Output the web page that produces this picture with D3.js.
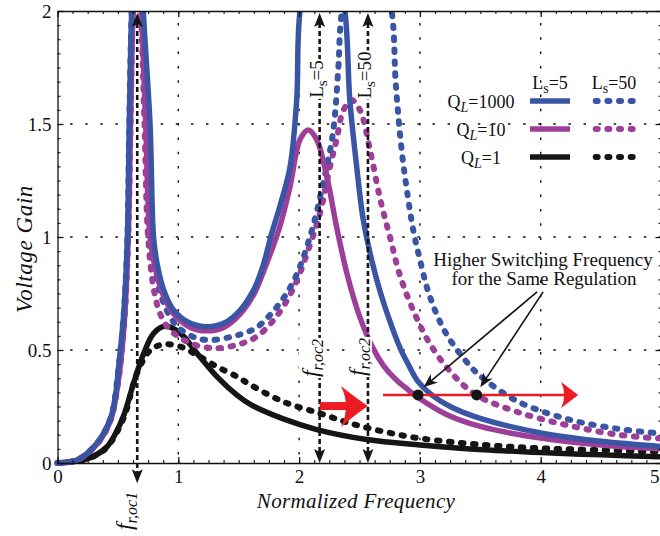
<!DOCTYPE html>
<html lang="en">
<head>
<meta charset="UTF-8">
<title>Voltage Gain</title>
<style>
  body { margin: 0; background: #fff; }
  svg text { font-family: "Liberation Serif", "Times New Roman", serif; fill: #111; }
  .axis path, .axis line { stroke: #111; stroke-width: 1.3; }
  .axis text { font-size: 19px; fill: #111; font-family: "Liberation Serif", "Times New Roman", serif; }
  .minor path { stroke: none; }
  .minor line { stroke: #111; stroke-width: 1.1; }
</style>
</head>
<body>
<svg id="chart" width="660" height="536"></svg>
<script src="https://cdn.jsdelivr.net/npm/d3@7"></script>
<script>
// ---- data: [normalized frequency, voltage gain] ----
var xTicks = [0, 1, 2, 3, 4, 5];
var yTicks = [0, 0.5, 1, 1.5, 2];
var qLabels = ["1000", "10", "1"];
var lsLabels = ["5", "50"];

var gainQ1000Ls5 = [[0,0],[0.16,0.013],[0.33,0.09],[0.44,0.2],[0.48,0.3],[0.507,0.43],[0.548,0.66],
  [0.578,0.99],[0.594,1.5],[0.614,2.0],[0.66,2.6],[0.71,2.0],[0.766,1.5],[0.795,1.0],[0.824,0.884],
  [0.879,0.766],[0.96,0.677],[1.1,0.618],[1.24,0.603],[1.376,0.618],[1.513,0.677],[1.624,0.766],
  [1.7,0.87],[1.773,1.016],[1.84,1.134],[1.925,1.31],[1.98,1.606],[2.007,2.0],[2.2,2.6],[2.38,2.0],
  [2.42,1.606],[2.477,1.31],[2.53,1.08],[2.6,0.9],[2.67,0.76],[2.75,0.63],[2.835,0.51],[2.9,0.44],
  [2.985,0.36],[3.1,0.3],[3.25,0.25],[3.5,0.197],[4.0,0.133],[4.5,0.096],[5.0,0.073]];

var gainQ10Ls5 = [[0,0],[0.16,0.012],[0.33,0.085],[0.44,0.19],[0.5,0.35],[0.55,0.6],[0.585,0.99],
  [0.605,1.5],[0.625,2.0],[0.66,2.4],[0.695,2.0],[0.73,1.5],[0.766,1.0],[0.81,0.86],[0.87,0.75],
  [0.96,0.66],[1.1,0.6],[1.24,0.585],[1.376,0.6],[1.513,0.66],[1.624,0.745],[1.7,0.84],[1.84,1.046],
  [1.925,1.223],[2.007,1.43],[2.076,1.473],[2.146,1.43],[2.23,1.267],[2.31,1.046],[2.4,0.83],
  [2.5,0.65],[2.61,0.51],[2.7,0.43],[2.8,0.37],[2.9,0.325],[2.985,0.29],[3.22,0.215],[3.5,0.162],
  [4.0,0.11],[4.5,0.08],[5.0,0.063]];

var gainQ1Ls5 = [[0,0],[0.2,0.012],[0.3,0.03],[0.41,0.072],[0.48,0.13],[0.548,0.21],[0.63,0.353],
  [0.714,0.485],[0.796,0.574],[0.893,0.606],[1.017,0.574],[1.155,0.485],[1.32,0.382],[1.486,0.3],
  [1.6,0.258],[1.87,0.195],[2.146,0.148],[2.56,0.104],[3.0,0.08],[3.525,0.059],[4.0,0.046],
  [4.5,0.036],[5.0,0.028]];

var gainQ1000Ls50 = [[0,0],[0.16,0.013],[0.33,0.09],[0.44,0.2],[0.507,0.43],[0.548,0.66],[0.578,0.99],
  [0.594,1.5],[0.614,2.0],[0.66,2.6],[0.705,2.0],[0.755,1.5],[0.785,1.0],[0.83,0.8],[0.9,0.68],
  [1.0,0.6],[1.155,0.552],[1.3,0.545],[1.45,0.56],[1.54,0.574],[1.65,0.6],[1.8,0.68],[1.95,0.8],
  [2.09,1.0],[2.2,1.24],[2.28,1.46],[2.325,1.75],[2.35,1.98],[2.55,2.6],[2.767,2.0],
  [2.8,1.68],[2.85,1.38],[2.9,1.18],[2.945,1.03],[3.0,0.9],[3.08,0.74],[3.22,0.57],
  [3.415,0.43],[3.5,0.385],[3.8,0.275],[4.215,0.195],[4.63,0.152],[5.0,0.13]];

var gainQ10Ls50 = [[0,0],[0.16,0.012],[0.33,0.085],[0.44,0.19],[0.5,0.35],[0.55,0.6],[0.585,0.99],
  [0.605,1.5],[0.625,2.0],[0.655,2.3],[0.69,2.0],[0.72,1.5],[0.75,1.0],[0.8,0.76],[0.85,0.66],
  [0.93,0.59],[1.1,0.53],[1.3,0.508],[1.5,0.525],[1.65,0.56],[1.8,0.64],[1.95,0.77],[2.1,0.98],
  [2.18,1.12],[2.255,1.31],[2.31,1.43],[2.366,1.56],[2.435,1.606],[2.505,1.56],[2.587,1.385],
  [2.67,1.17],[2.752,1.0],[2.835,0.83],[2.945,0.675],[3.08,0.53],[3.276,0.39],[3.47,0.3],
  [3.8,0.227],[4.215,0.168],[4.63,0.126],[5.0,0.108]];

var gainQ1Ls50 = [[0,0],[0.2,0.012],[0.3,0.03],[0.41,0.07],[0.548,0.2],[0.658,0.397],[0.77,0.5],
  [0.88,0.525],[1.017,0.515],[1.155,0.478],[1.32,0.426],[1.486,0.382],[1.6,0.345],[1.87,0.271],
  [2.17,0.22],[2.42,0.176],[2.7,0.139],[3.0,0.109],[3.525,0.08],[4.0,0.065],[4.5,0.057],[5.0,0.05]];

// annotations (data units)
var fOc1 = 0.66, fOc2Ls5 = 2.17, fOc2Ls50 = 2.57;
var regGain = 0.301;
var regPoints = [2.985, 3.47];

var blue = "#3b55a5", magenta = "#9d3f99", black = "#151515", red = "#ed1c24";

var svg = d3.select("#chart");
var x = d3.scaleLinear().domain([0, 5]).range([57.5, 661.5]);
var y = d3.scaleLinear().domain([0, 2]).range([463, 11]);

// grid
var grid = svg.append("g");
grid.selectAll(".gx").data([1, 2, 3, 4]).enter().append("line")
  .attr("x1", d => x(d)).attr("x2", d => x(d))
  .attr("y1", y(2)).attr("y2", y(0))
  .attr("stroke", "#111").attr("stroke-width", 1.4)
  .attr("stroke-dasharray", "2.5,11.8").attr("stroke-dashoffset", -12);
grid.selectAll(".gy").data([0.5, 1, 1.5]).enter().append("line")
  .attr("x1", x(0)).attr("x2", x(5))
  .attr("y1", d => y(d)).attr("y2", d => y(d))
  .attr("stroke", "#111").attr("stroke-width", 1.4)
  .attr("stroke-dasharray", "2.5,12.6").attr("stroke-dashoffset", -12.6);

// curves
svg.append("clipPath").attr("id", "clip").append("rect")
  .attr("x", x(0) - 5).attr("y", y(2)).attr("width", x(5) - x(0) + 5).attr("height", y(0) - y(2) + 5);

var line = d3.line().x(d => x(d[0])).y(d => y(d[1])).curve(d3.curveCatmullRom.alpha(0.5));
var series = [
  { data: gainQ1Ls50, color: black, dotted: true },
  { data: gainQ1Ls5, color: black, dotted: false },
  { data: gainQ10Ls50, color: magenta, dotted: true },
  { data: gainQ1000Ls50, color: blue, dotted: true },
  { data: gainQ10Ls5, color: magenta, dotted: false },
  { data: gainQ1000Ls5, color: blue, dotted: false }
];
svg.append("g").attr("clip-path", "url(#clip)")
  .selectAll("path").data(series).enter().append("path")
  .attr("d", d => line(d.data))
  .attr("fill", "none")
  .attr("stroke", d => d.color)
  .attr("stroke-width", d => d.dotted ? 6 : 5.5)
  .attr("stroke-linecap", d => d.dotted ? "round" : "butt")
  .attr("stroke-dasharray", d => d.dotted ? "2.5,9.5" : null);

// axes
var minorX = d3.range(0, 5.001, 0.125), minorY = d3.range(0, 2.001, 0.0625);
function addAxis(axis, tr, minor) {
  return svg.append("g").attr("class", minor ? "axis minor" : "axis").attr("transform", tr).call(axis);
}
addAxis(d3.axisBottom(x).tickValues(minorX).tickSizeInner(-3).tickSizeOuter(0).tickFormat(""), "translate(0," + y(0) + ")", true);
addAxis(d3.axisTop(x).tickValues(minorX).tickSizeInner(-3).tickSizeOuter(0).tickFormat(""), "translate(0," + y(2) + ")", true);
addAxis(d3.axisLeft(y).tickValues(minorY).tickSizeInner(-3).tickSizeOuter(0).tickFormat(""), "translate(" + x(0) + ",0)", true);
addAxis(d3.axisRight(y).tickValues(minorY).tickSizeInner(-3).tickSizeOuter(0).tickFormat(""), "translate(" + x(5) + ",0)", true);

var xAxisG = addAxis(d3.axisBottom(x).tickValues(xTicks).tickSizeInner(-6).tickSizeOuter(0).tickPadding(7).tickFormat(d => String(d)), "translate(0," + y(0) + ")");
// last label sits at the page edge: keep it inside
xAxisG.selectAll(".tick text").filter(d => d === 5).attr("text-anchor", "end").attr("x", -2.5);
addAxis(d3.axisTop(x).tickValues(xTicks).tickSizeInner(-6).tickSizeOuter(0).tickFormat(""), "translate(0," + y(2) + ")");
addAxis(d3.axisLeft(y).tickValues(yTicks).tickSizeInner(-6).tickSizeOuter(0).tickPadding(6).tickFormat(d => String(d)), "translate(" + x(0) + ",0)");
addAxis(d3.axisRight(y).tickValues(yTicks).tickSizeInner(-6).tickSizeOuter(0).tickFormat(""), "translate(" + x(5) + ",0)");

// axis titles
svg.append("text").attr("x", 356).attr("y", 508).attr("text-anchor", "middle")
  .style("font-size", "21px").style("font-style", "italic").style("letter-spacing", "0.3px").text("Normalized Frequency");
svg.append("text").attr("transform", "translate(32,249) rotate(-90)").attr("text-anchor", "middle")
  .style("font-size", "23px").style("font-style", "italic").style("letter-spacing", "0.6px").text("Voltage Gain");

// rich text helper: parts = [text, size, shift, italic]
function rich(g, parts, anchor) {
  var t = g.append("text").attr("text-anchor", anchor || "middle");
  var cur = 0;
  parts.forEach(function (p) {
    t.append("tspan").text(p[0]).style("font-size", p[1] + "px")
      .style("font-style", p[3] ? "italic" : "normal")
      .attr("dy", (p[2] - cur));
    cur = p[2];
  });
  return t;
}
function rotatedLabel(cx, cy, parts, bg) {
  var g = svg.append("g").attr("transform", "translate(" + cx + "," + cy + ") rotate(-90)");
  var t = rich(g, parts);
  if (bg) {
    var b = t.node().getBBox();
    g.insert("rect", "text").attr("x", b.x - 1).attr("y", b.y + 2).attr("width", b.width + 2)
      .attr("height", b.height - 3).attr("fill", "#fff");
  }
}

// vertical dashed arrows
function vArrow(xv, yTop, yBot) {
  var xp = x(xv);
  svg.append("line").attr("x1", xp).attr("x2", xp).attr("y1", yTop + 10).attr("y2", yBot - 10)
    .attr("stroke", black).attr("stroke-width", 2.6).attr("stroke-dasharray", "5,3");
  svg.append("path").attr("d", "M" + xp + "," + yTop + "l-5.5,14l5.5,-3l5.5,3z").attr("fill", black);
  svg.append("path").attr("d", "M" + xp + "," + yBot + "l-5.5,-14l5.5,3l5.5,-3z").attr("fill", black);
}
vArrow(fOc1, y(2) + 2, y(-0.09));
vArrow(fOc2Ls5, y(2) + 2, y(0));
vArrow(fOc2Ls50, y(2) + 2, y(0));

var fParts = function (n) { return [["f", 24, 0, true], ["r,oc" + n, 16, 5, true]]; };
rotatedLabel(x(fOc1) - 5, 511, fParts(1), false);
rotatedLabel(x(fOc2Ls5) - 2, 358, fParts(2), true);
rotatedLabel(x(fOc2Ls50) - 3, 357, fParts(2), true);
rotatedLabel(x(fOc2Ls5) + 3, 79, [["L", 19, 0], ["s", 15, 4], ["=" + lsLabels[0], 19, 0]], true);
rotatedLabel(x(fOc2Ls50) + 3, 75, [["L", 19, 0], ["s", 15, 4], ["=" + lsLabels[1], 19, 0]], true);

// red arrows
var tx = x(fOc2Ls50), ty = y(0.252);
svg.append("rect").attr("x", x(fOc2Ls5)).attr("y", ty - 4).attr("width", tx - 20 - x(fOc2Ls5)).attr("height", 8).attr("fill", red);
svg.append("path").attr("d", "M" + tx + "," + ty + "Q" + (tx - 12) + "," + (ty - 8) + " " + (tx - 27) + "," + (ty - 20)
  + "Q" + (tx - 17) + "," + ty + " " + (tx - 27) + "," + (ty + 21) + "Q" + (tx - 12) + "," + (ty + 8) + " " + tx + "," + ty + "Z")
  .attr("fill", red);

var rx0 = x(2.695), rx1 = x(4.31), ry = y(regGain);
svg.append("line").attr("x1", rx0).attr("x2", rx1 - 8).attr("y1", ry).attr("y2", ry)
  .attr("stroke", red).attr("stroke-width", 2.4);
svg.append("path").attr("d", "M" + rx1 + "," + ry + "L" + (rx1 - 17) + "," + (ry - 13) + "Q" + (rx1 - 11) + "," + ry + " "
  + (rx1 - 17) + "," + (ry + 13) + "Z").attr("fill", red);

// regulation points and pointers
svg.selectAll(".pt").data(regPoints).enter().append("circle")
  .attr("cx", d => x(d)).attr("cy", ry).attr("r", 5.5).attr("fill", black);

var pointerFrom = [[3.97, 0.757], [4.02, 0.757]];
var pointerTo = [[3.03, 0.335], [3.5, 0.335]];
pointerFrom.forEach(function (p, i) {
  var x0 = x(p[0]), y0 = y(p[1]), x1 = x(pointerTo[i][0]), y1 = y(pointerTo[i][1]);
  var a = Math.atan2(y1 - y0, x1 - x0);
  svg.append("line").attr("x1", x0).attr("y1", y0).attr("x2", x1 - 8 * Math.cos(a)).attr("y2", y1 - 8 * Math.sin(a))
    .attr("stroke", black).attr("stroke-width", 1.6);
  svg.append("path").attr("d", "M0,0L-14,-5.5L-10,0L-14,5.5Z").attr("fill", black)
    .attr("transform", "translate(" + x1 + "," + y1 + ") rotate(" + (a * 180 / Math.PI) + ")");
});
svg.append("text").attr("x", 543).attr("y", 266).attr("text-anchor", "middle").style("font-size", "19px")
  .text("Higher Switching Frequency");
svg.append("text").attr("x", 544).attr("y", 285).attr("text-anchor", "middle").style("font-size", "19px")
  .text("for the Same Regulation");

// legend
var legend = svg.append("g");
var colX = [550, 614], rowY = [101, 129, 157], rowColors = [blue, magenta, black];
lsLabels.forEach(function (l, j) {
  var g = legend.append("g").attr("transform", "translate(" + colX[j] + ",89)");
  rich(g, [["L", 18, 0], ["s", 14, 4], ["=" + l, 18, 0]]);
});
qLabels.forEach(function (q, i) {
  var g = legend.append("g").attr("transform", "translate(481," + (rowY[i] + 7) + ")");
  rich(g, [["Q", 18, 0], ["L", 14, 4, true], ["=" + q, 18, 0]]);
  legend.append("line").attr("x1", 530).attr("x2", 570).attr("y1", rowY[i]).attr("y2", rowY[i])
    .attr("stroke", rowColors[i]).attr("stroke-width", 5.5);
  legend.append("line").attr("x1", 595.7).attr("x2", 632.7).attr("y1", rowY[i]).attr("y2", rowY[i])
    .attr("stroke", rowColors[i]).attr("stroke-width", 6).attr("stroke-linecap", "round")
    .attr("stroke-dasharray", "2,9.67");
});
</script>
</body>
</html>
